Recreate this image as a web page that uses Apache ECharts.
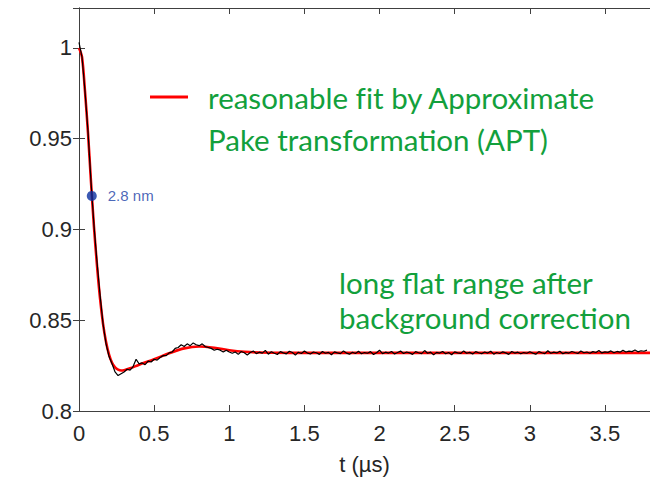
<!DOCTYPE html>
<html><head><meta charset="utf-8">
<script src="https://cdn.jsdelivr.net/npm/echarts@6/dist/echarts.min.js"></script>
<style>html,body{margin:0;padding:0;background:#fff;}#c{width:650px;height:481px;}#c text{font-variant-ligatures:none;font-feature-settings:"liga" 0,"clig" 0;}</style>
</head><body><div id="c"></div>
<script>
// Measured signal (black), sampled every 0.02 µs starting at t = 0
const dataStep = 0.02;
const dataY = [
1.003,0.995,0.976,0.954,0.926,0.902,0.882,0.864,0.848,0.837,
0.830,0.826,0.8215,0.8195,0.8205,0.8215,0.823,0.8225,0.8245,0.8285,
0.826,0.8265,0.8255,0.8275,0.827,0.8285,0.828,0.8295,0.8305,0.8305,
0.832,0.8325,0.8345,0.835,0.8365,0.8355,0.837,0.836,0.8375,0.8365,
0.836,0.837,0.8355,0.835,0.8345,0.8335,0.834,0.8335,0.8325,0.8335,
0.8325,
0.8318,0.8325,0.8312,0.8328,0.8321,0.8309,0.8322,0.8331,0.8316,0.8324,
0.8319,0.8334,0.8313,0.8326,0.8318,0.8311,0.8327,0.8320,0.8315,0.8329,
0.8322,0.8308,0.8324,0.8317,0.8330,0.8319,0.8314,0.8325,0.8321,0.8312,
0.8328,0.8318,0.8323,0.8310,0.8326,0.8320,0.8316,0.8331,0.8319,0.8313,
0.8324,0.8317,0.8329,0.8315,0.8322,0.8318,0.8327,0.8311,0.8321,
0.8335,0.8316,0.8324,0.8319,0.8328,0.8314,0.8322,0.8330,0.8317,0.8325,
0.8320,0.8312,0.8327,0.8321,0.8316,0.8333,0.8318,0.8324,0.8309,0.8323,
0.8319,0.8328,0.8315,0.8322,0.8310,0.8326,0.8320,0.8317,0.8331,0.8318,
0.8323,0.8314,0.8327,0.8321,0.8316,0.8325,0.8319,0.8329,0.8313,0.8322,
0.8317,0.8326,0.8320,0.8312,0.8328,0.8319,0.8324,0.8315,0.8322,0.8318,
0.8326,0.8319,0.8313,0.8327,0.8321,0.8316,0.8332,0.8318,0.8324,0.8320,
0.8329,0.8315,0.8323,0.8319,0.8328,0.8322,0.8317,0.8330,0.8321,0.8325,
0.8318,0.8327,0.8322,0.8333,0.8320,0.8326,0.8323,0.8331,0.8321,0.8328,
0.8324,0.8334,0.8325,0.8330,0.8327,0.8336,0.8326,0.8332,0.8329,0.8335
];
// APT fit (red)
const fitT = [0,0.02,0.04,0.06,0.08,0.10,0.12,0.14,0.16,0.18,0.20,0.22,0.24,0.26,0.28,0.30,0.34,0.40,0.50,0.60,0.70,0.80,0.90,1.00,1.10,1.20,1.40,2.00,3.00,3.80];
const fitY = [1.0,0.995,0.976,0.953,0.926,0.901,0.880,0.862,0.848,0.838,0.831,0.8265,0.824,0.8228,0.8223,0.8225,0.8235,0.8255,0.8285,0.8318,0.8345,0.8355,0.8348,0.8335,0.8326,0.8322,0.832,0.832,0.832,0.832];
// Marked distance point
const markT = [0.085];
const markY = [0.9185];
const markLabel = ['2.8 nm'];
const xTicks = {min:0, max:3.8, interval:0.5};
const yTicks = {min:0.8, max:1.022, interval:0.05};
const xName = 't (µs)';
const fitName = 'reasonable fit by Approximate';
const fitName2 = 'Pake transformation (APT)';
const note1 = 'long flat range after';
const note2 = 'background correction';

const dataPts = dataY.map((v,i)=>[+(i*dataStep).toFixed(2), v]);
const fitPts = fitT.map((t,i)=>[t, fitY[i]]);
const markPts = markT.map((t,i)=>({value:[t, markY[i]], label:{formatter:markLabel[i]}}));

const axCol = '#404040';
const txtCol = '#262626';
const green = '#12A03C';
const gFont = '29.5px Lato';
const chart = echarts.init(document.getElementById('c'), null, {renderer:'svg'});
const baseX = {type:'value', min:xTicks.min, max:xTicks.max, interval:xTicks.interval,
  axisLine:{show:true, lineStyle:{color:axCol, width:1}}, axisTick:{show:true, inside:true, length:6, lineStyle:{color:axCol}},
  splitLine:{show:false}};
const baseY = {type:'value', min:yTicks.min, max:yTicks.max, interval:yTicks.interval,
  axisLine:{show:true, lineStyle:{color:axCol, width:1}}, axisTick:{show:true, inside:true, length:6, lineStyle:{color:axCol}},
  splitLine:{show:false}};
chart.setOption({
  animation:false,
  grid:{left:79, right:-4, top:8, bottom:70},
  xAxis:[
    Object.assign({}, baseX, {position:'bottom', name:xName, nameLocation:'middle', nameGap:42,
      nameTextStyle:{fontSize:22, color:txtCol, fontFamily:'Liberation Sans, Arial'},
      axisLabel:{fontSize:22, color:txtCol, margin:11, fontFamily:'Liberation Sans, Arial', showMaxLabel:false}}),
    Object.assign({}, baseX, {position:'top', axisLabel:{show:false}})
  ],
  yAxis:[
    Object.assign({}, baseY, {position:'left',
      axisLabel:{fontSize:22, color:txtCol, margin:7, fontFamily:'Liberation Sans, Arial', showMaxLabel:false,
        formatter:v=>String(parseFloat(v.toFixed(2)))}}),
    Object.assign({}, baseY, {position:'right', axisLabel:{show:false}})
  ],
  legend:{show:true, left:150, top:82, padding:0, icon:'rect', itemWidth:38, itemHeight:3, data:[fitName],
    textStyle:{fontSize:29.5, color:green, fontFamily:'Lato', padding:[0,0,0,15]}},
  graphic:[
    {type:'text', x:208, y:139, style:{text:fitName2, fill:green, font:gFont, verticalAlign:'middle'}},
    {type:'text', x:339, y:282, style:{text:note1, fill:green, font:gFont, verticalAlign:'middle'}},
    {type:'text', x:339, y:317, style:{text:note2, fill:green, font:gFont, verticalAlign:'middle'}}
  ],
  series:[
    {name:fitName, type:'line', data:fitPts, showSymbol:false, smooth:0.3,
      lineStyle:{color:'#ff0000', width:2.6}, itemStyle:{color:'#ff0000'}, z:2},
    {name:'data', type:'line', data:dataPts, showSymbol:false,
      lineStyle:{color:'#000000', width:1.2}, z:3},
    {name:'mark', type:'scatter', data:markPts, symbolSize:10, itemStyle:{color:'#0a2fa0'}, z:4,
      label:{show:true, position:'right', distance:11, color:'#1a40a6', fontSize:15, fontFamily:'Liberation Sans, Arial'}}
  ]
});
</script></body></html>
